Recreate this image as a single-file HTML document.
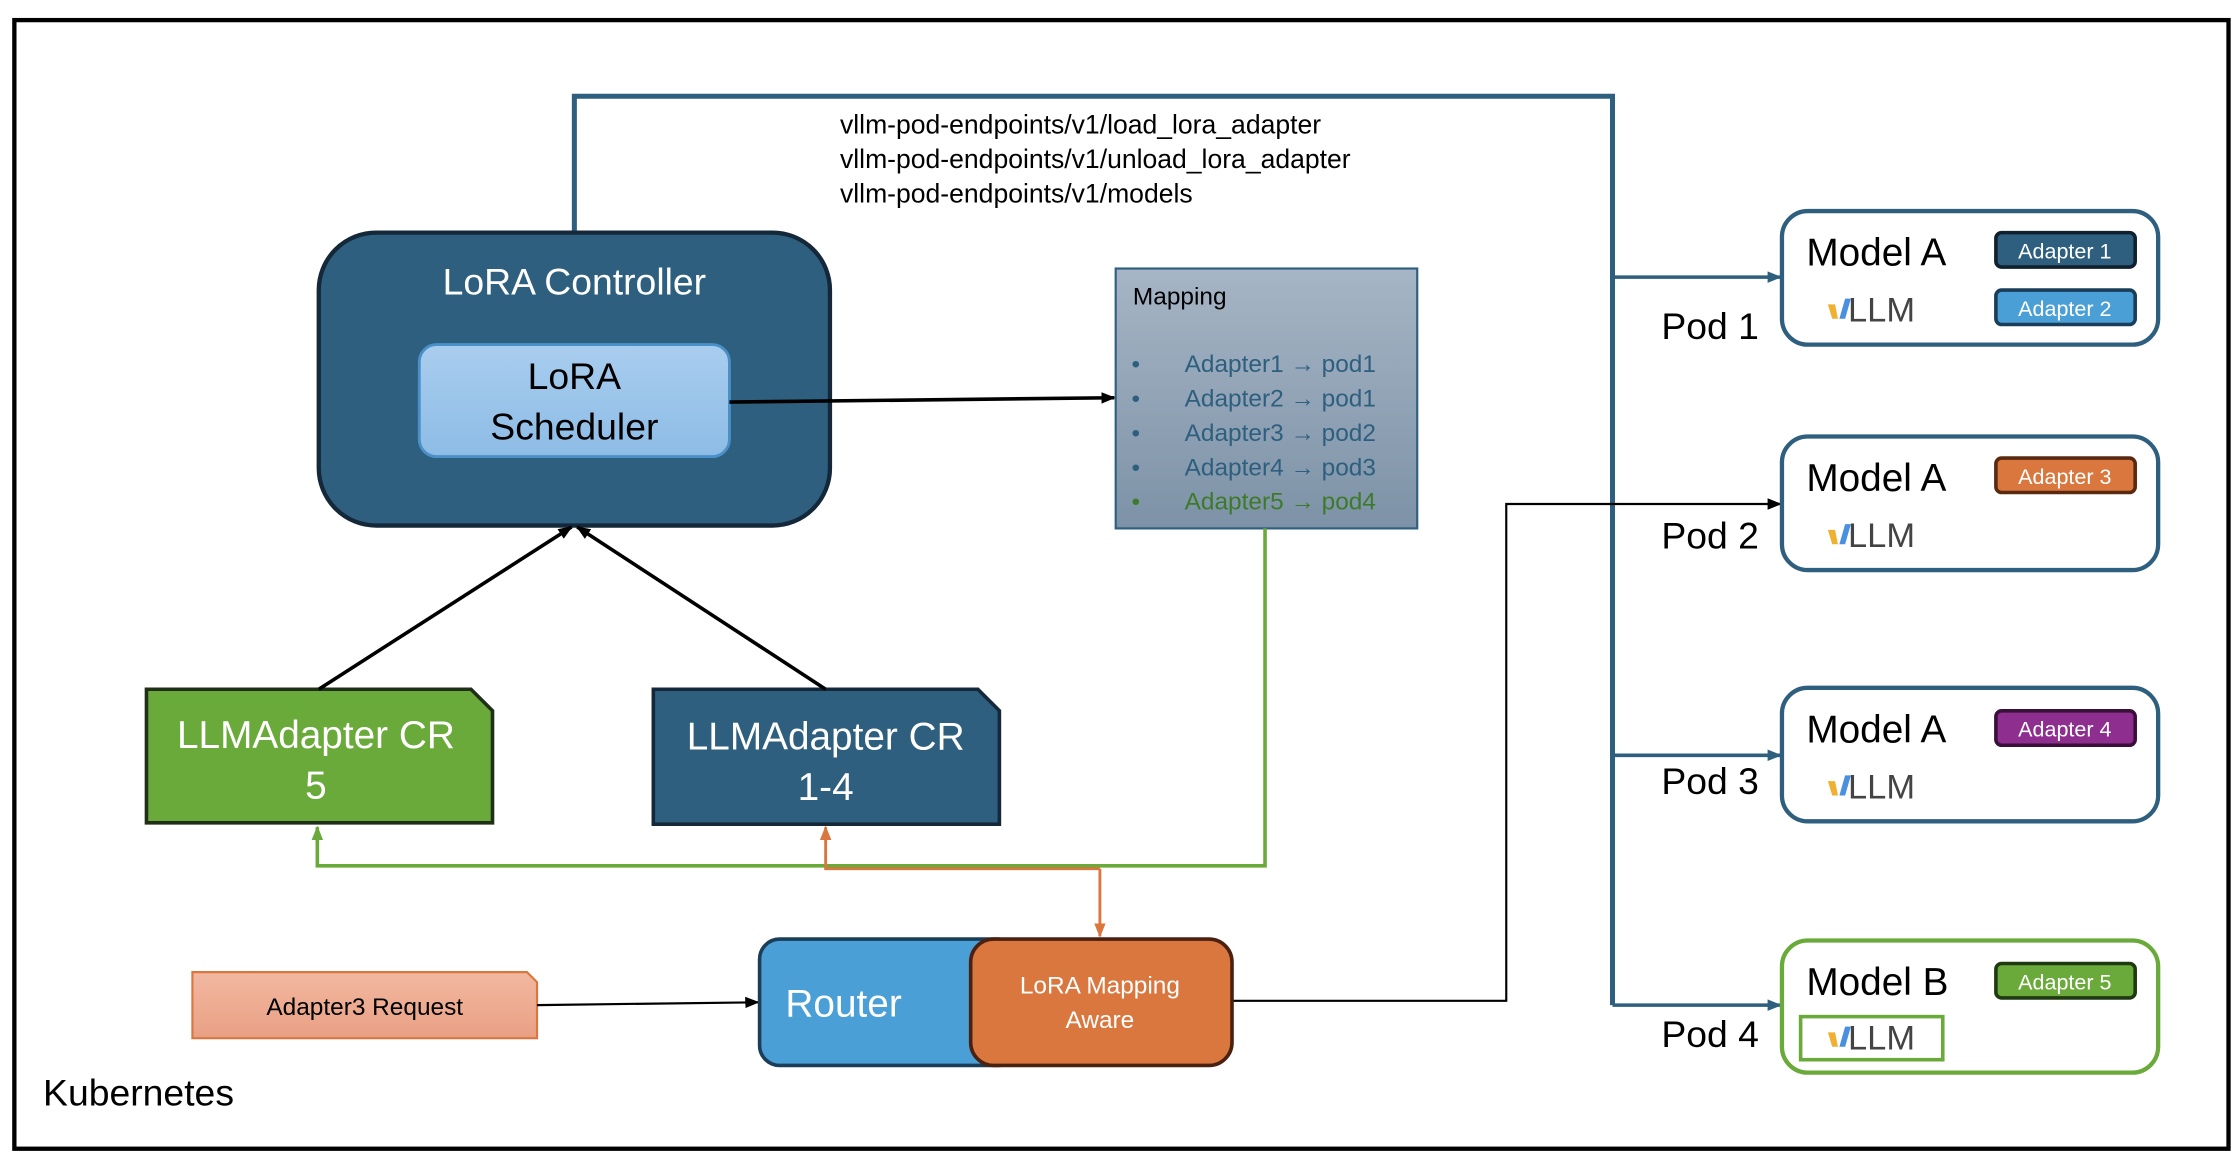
<!DOCTYPE html>
<html><head><style>html,body{margin:0;padding:0;background:#fff}svg{display:block}text{font-family:"Liberation Sans",sans-serif}</style></head>
<body>
<svg width="2240" height="1174" viewBox="0 0 1560 817.6" preserveAspectRatio="none" xmlns="http://www.w3.org/2000/svg">
<defs>
<marker id="ab" markerWidth="10" markerHeight="10" refX="9" refY="5" orient="auto" markerUnits="userSpaceOnUse"><path d="M0,1 L10,5 L0,9 z" fill="#000"/></marker>
<marker id="abl" markerWidth="10" markerHeight="10" refX="9" refY="5" orient="auto" markerUnits="userSpaceOnUse"><path d="M0,1 L10,5 L0,9 z" fill="#2e5f7f"/></marker>
<marker id="ag" markerWidth="10" markerHeight="10" refX="9" refY="5" orient="auto" markerUnits="userSpaceOnUse"><path d="M0,1 L10,5 L0,9 z" fill="#6aaa3a"/></marker>
<marker id="ao" markerWidth="10" markerHeight="10" refX="9" refY="5" orient="auto" markerUnits="userSpaceOnUse"><path d="M0,1 L10,5 L0,9 z" fill="#d9773e"/></marker>
<linearGradient id="sch" x1="0" y1="0" x2="0" y2="1"><stop offset="0" stop-color="#a9cdee"/><stop offset="1" stop-color="#8dbce6"/></linearGradient>
<linearGradient id="map" x1="0" y1="0" x2="0" y2="1"><stop offset="0" stop-color="#a6b5c5"/><stop offset="1" stop-color="#7d92a7"/></linearGradient>
<linearGradient id="req" x1="0" y1="0" x2="0" y2="1"><stop offset="0" stop-color="#f2b8a0"/><stop offset="1" stop-color="#e9a084"/></linearGradient>
</defs>
<rect x="10" y="14" width="1542" height="786" fill="#fff" stroke="#000" stroke-width="3"/>
<polyline points="400,162 400,67 1123,67 1123,700" fill="none" stroke="#2e5f7f" stroke-width="3.5"/>
<line x1="1123" y1="193" x2="1240" y2="193" stroke="#2e5f7f" stroke-width="2.5" marker-end="url(#abl)"/>
<line x1="1123" y1="526" x2="1240" y2="526" stroke="#2e5f7f" stroke-width="2.5" marker-end="url(#abl)"/>
<line x1="1123" y1="700" x2="1240" y2="700" stroke="#2e5f7f" stroke-width="2.5" marker-end="url(#abl)"/>
<polyline points="858,697 1049,697 1049,351 1240,351" fill="none" stroke="#000" stroke-width="1.5" marker-end="url(#ab)"/>
<text x="585" y="93" font-size="18.5">vllm-pod-endpoints/v1/load_lora_adapter</text>
<text x="585" y="117" font-size="18.5">vllm-pod-endpoints/v1/unload_lora_adapter</text>
<text x="585" y="141" font-size="18.5">vllm-pod-endpoints/v1/models</text>
<rect x="222" y="162" width="356" height="204" rx="40" fill="#2e5f7f" stroke="#14283a" stroke-width="3"/>
<text x="400" y="205" font-size="26" fill="#fff" text-anchor="middle">LoRA Controller</text>
<rect x="292" y="240" width="216" height="78" rx="12" fill="url(#sch)" stroke="#4a90c8" stroke-width="2"/>
<text x="400" y="271" font-size="26" text-anchor="middle">LoRA</text>
<text x="400" y="306" font-size="26" text-anchor="middle">Scheduler</text>
<line x1="508" y1="280" x2="776" y2="277" stroke="#000" stroke-width="2.5" marker-end="url(#ab)"/>
<rect x="777" y="187" width="210" height="181" fill="url(#map)" stroke="#2e5f7f" stroke-width="1.5"/>
<text x="789" y="212" font-size="17">Mapping</text>
<g font-size="17" fill="#2e5f7f">
<text x="788" y="259">•</text><text x="825" y="259">Adapter1 → pod1</text>
<text x="788" y="283">•</text><text x="825" y="283">Adapter2 → pod1</text>
<text x="788" y="307">•</text><text x="825" y="307">Adapter3 → pod2</text>
<text x="788" y="331">•</text><text x="825" y="331">Adapter4 → pod3</text>
<text x="788" y="355" fill="#3d7a2a">•</text><text x="825" y="355" fill="#3d7a2a">Adapter5 → pod4</text>
</g>
<polyline points="881,368 881,603 221,603 221,576" fill="none" stroke="#6aaa3a" stroke-width="2.5" marker-end="url(#ag)"/>
<polyline points="766,605 575,605 575,576" fill="none" stroke="#d9773e" stroke-width="2" marker-end="url(#ao)"/>
<line x1="766" y1="605" x2="766" y2="652" stroke="#d9773e" stroke-width="2" marker-end="url(#ao)"/>
<path d="M102,480 L328,480 L343,495 L343,573 L102,573 z" fill="#6aaa3a" stroke="#1f2f1a" stroke-width="2.5"/>
<text x="220" y="521" font-size="27" fill="#fff" text-anchor="middle">LLMAdapter CR</text>
<text x="220" y="556" font-size="27" fill="#fff" text-anchor="middle">5</text>
<path d="M455,480 L681,480 L696,495 L696,574 L455,574 z" fill="#2e5f7f" stroke="#14283a" stroke-width="2.5"/>
<text x="575" y="522" font-size="27" fill="#fff" text-anchor="middle">LLMAdapter CR</text>
<text x="575" y="557" font-size="27" fill="#fff" text-anchor="middle">1-4</text>
<line x1="222" y1="480" x2="398" y2="367" stroke="#000" stroke-width="2.5" marker-end="url(#ab)"/>
<line x1="575" y1="480" x2="402" y2="367" stroke="#000" stroke-width="2.5" marker-end="url(#ab)"/>
<path d="M134,677 L367,677 L374,684 L374,723 L134,723 z" fill="url(#req)" stroke="#d9773e" stroke-width="1.5"/>
<text x="254" y="707" font-size="17" text-anchor="middle">Adapter3 Request</text>
<line x1="374" y1="700" x2="528" y2="698" stroke="#000" stroke-width="1.5" marker-end="url(#ab)"/>
<rect x="529" y="654" width="180" height="88" rx="14" fill="#4a9fd6" stroke="#1a3d5a" stroke-width="2.5"/>
<text x="547" y="708" font-size="27" fill="#fff">Router</text>
<rect x="676" y="654" width="182" height="88" rx="16" fill="#d9773e" stroke="#4a2010" stroke-width="2.5"/>
<text x="766" y="692" font-size="17" fill="#fff" text-anchor="middle">LoRA Mapping</text>
<text x="766" y="716" font-size="17" fill="#fff" text-anchor="middle">Aware</text>
<g stroke-width="3" fill="#fff">
<rect x="1241" y="147" width="262" height="93" rx="18" stroke="#2e5f7f"/>
<rect x="1241" y="304" width="262" height="93" rx="18" stroke="#2e5f7f"/>
<rect x="1241" y="479" width="262" height="93" rx="18" stroke="#2e5f7f"/>
<rect x="1241" y="655" width="262" height="92" rx="18" stroke="#6aaa3a"/>
</g>
<g font-size="27">
<text x="1258" y="185">Model A</text>
<text x="1258" y="342">Model A</text>
<text x="1258" y="517">Model A</text>
<text x="1258" y="693">Model B</text>
<text x="1157" y="236" font-size="26">Pod 1</text>
<text x="1157" y="382" font-size="26">Pod 2</text>
<text x="1157" y="553" font-size="26">Pod 3</text>
<text x="1157" y="729" font-size="26">Pod 4</text>
</g>
<g font-size="24" fill="#444">
<g><path d="M1273,212 L1278,212 L1280,222 L1276,222 z" fill="#f0b030"/><path d="M1281,222 L1285,208 L1289,208 L1285,222 z" fill="#4a90e0"/><text x="1287" y="224">LLM</text></g>
<g transform="translate(0,157)"><path d="M1273,212 L1278,212 L1280,222 L1276,222 z" fill="#f0b030"/><path d="M1281,222 L1285,208 L1289,208 L1285,222 z" fill="#4a90e0"/><text x="1287" y="224">LLM</text></g>
<g transform="translate(0,332)"><path d="M1273,212 L1278,212 L1280,222 L1276,222 z" fill="#f0b030"/><path d="M1281,222 L1285,208 L1289,208 L1285,222 z" fill="#4a90e0"/><text x="1287" y="224">LLM</text></g>
<g transform="translate(0,507)"><path d="M1273,212 L1278,212 L1280,222 L1276,222 z" fill="#f0b030"/><path d="M1281,222 L1285,208 L1289,208 L1285,222 z" fill="#4a90e0"/><text x="1287" y="224">LLM</text></g>
</g>
<rect x="1254" y="708" width="99" height="30" fill="none" stroke="#6aaa3a" stroke-width="2.5"/>
<g stroke-width="2.5" font-size="15">
<rect x="1390" y="162" width="97" height="24" rx="4" fill="#2e5f7f" stroke="#10202e"/>
<rect x="1390" y="202" width="97" height="24" rx="4" fill="#4a9fd6" stroke="#1a3d5a"/>
<rect x="1390" y="319" width="97" height="24" rx="4" fill="#d9773e" stroke="#5a2a10"/>
<rect x="1390" y="495" width="97" height="24" rx="4" fill="#8e2e8e" stroke="#3a103a"/>
<rect x="1390" y="671" width="97" height="24" rx="4" fill="#6aaa3a" stroke="#1f3a10"/>
</g>
<g font-size="15" fill="#fff" text-anchor="middle">
<text x="1438" y="180">Adapter 1</text>
<text x="1438" y="220">Adapter 2</text>
<text x="1438" y="337">Adapter 3</text>
<text x="1438" y="513">Adapter 4</text>
<text x="1438" y="689">Adapter 5</text>
</g>
<text x="30" y="770" font-size="26">Kubernetes</text>
</svg>
</body></html>
